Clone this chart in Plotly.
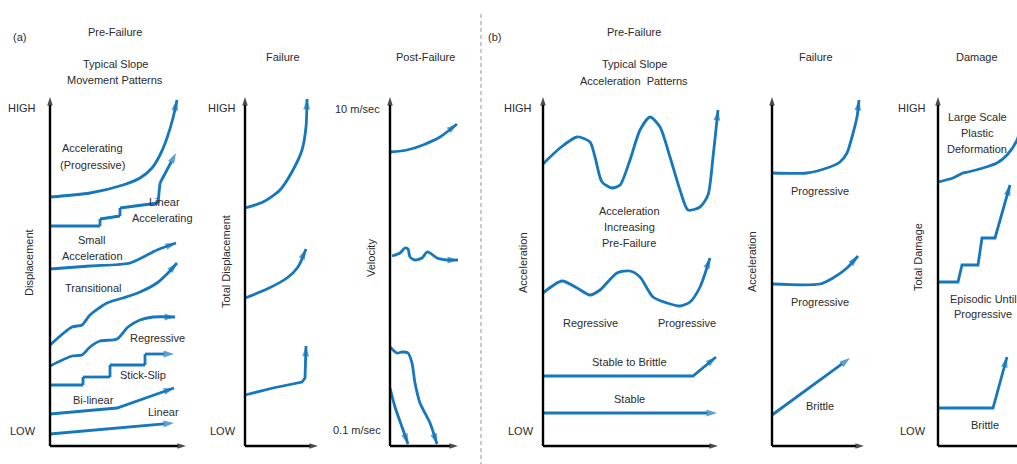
import plotly.graph_objects as go

W, H = 1017, 464
BLUE = "#1677bd"
TXT = "#2b2b2b"
FONT = "Liberation Sans, Arial, sans-serif"

# ---------------- Panel (a) Pre-Failure: displacement patterns ----------------
accel_prog_x = [50, 90, 123, 140, 152, 160, 167, 173, 177]
accel_prog_y = [197, 193, 185, 178, 168, 155, 138, 118, 100]
lin_accel_x = [50, 100, 100, 120, 120, 158, 160, 176]
lin_accel_y = [226, 226, 219, 216, 208, 203, 183, 153]
small_acc_x = [50, 90, 130, 157, 176]
small_acc_y = [269, 266, 263, 250, 243]
transit_x = [50, 72, 82, 90, 107, 123, 140, 157, 168, 177]
transit_y = [345, 327, 325, 315, 303, 298, 292, 283, 273, 263]
regress_x = [50, 72, 82, 90, 100, 117, 128, 140, 153, 175]
regress_y = [366, 356, 355, 347, 341, 339, 327, 320, 317, 317]
stick_x = [50, 83, 83, 110, 110, 145, 145, 174]
stick_y = [385, 385, 377, 377, 365, 365, 354, 354]
bilin_x = [50, 117, 174]
bilin_y = [414, 408, 388]
linear_x = [50, 174]
linear_y = [434, 423]

# ---------------- Panel (a) Failure: total displacement ----------------
fail_top_x = [245, 263, 280, 293, 302, 306, 307]
fail_top_y = [208, 202, 190, 170, 150, 127, 99]
fail_mid_x = [245, 267, 287, 298, 306]
fail_mid_y = [298, 289, 278, 267, 249]
fail_bot_x = [245, 273, 302, 305, 306]
fail_bot_y = [395, 388, 382, 378, 346]

# ---------------- Panel (a) Post-Failure: velocity ----------------
post_top_x = [390, 407, 423, 440, 457]
post_top_y = [152, 150, 145, 137, 124]
post_mid_x = [392, 400, 405, 408, 410, 415, 422, 427, 430, 437, 447, 458]
post_mid_y = [256, 253, 248, 249, 257, 260, 258, 252, 253, 258, 260, 260]
post_low1_x = [390, 397, 402, 408, 412, 415, 420, 430, 437]
post_low1_y = [347, 353, 352, 353, 363, 383, 403, 423, 444]
post_low2_x = [390, 395, 402, 408]
post_low2_y = [388, 407, 427, 444]

# ---------------- Panel (b) Pre-Failure: acceleration patterns ----------------
wave_big_x = [543, 560, 577, 590, 595, 602, 612, 620, 630, 640, 650, 660, 670, 680, 688, 700, 708, 713, 718]
wave_big_y = [164, 148, 137, 142, 157, 182, 188, 185, 160, 130, 117, 127, 157, 190, 210, 207, 195, 157, 110]
wave_small_x = [543, 562, 577, 590, 600, 617, 630, 640, 653, 667, 680, 690, 700, 710]
wave_small_y = [293, 281, 288, 295, 290, 273, 271, 277, 297, 303, 306, 302, 287, 258]
stab_brit_x = [543, 693, 716]
stab_brit_y = [376, 376, 357]
stable_x = [543, 717]
stable_y = [413, 413]

# ---------------- Panel (b) Failure: acceleration ----------------
bf_top_x = [772, 807, 827, 840, 847, 852, 857, 859]
bf_top_y = [173, 173, 168, 162, 153, 137, 117, 100]
bf_mid_x = [772, 820, 833, 847, 858]
bf_mid_y = [284, 284, 278, 268, 256]
bf_brit_x = [772, 850]
bf_brit_y = [415, 358]

# ---------------- Panel (b) Damage ----------------
dmg_top_x = [938, 953, 963, 968, 983, 997, 1007, 1017, 1024]
dmg_top_y = [182, 178, 173, 172, 168, 163, 155, 140, 115]
dmg_epi_x = [938, 958, 962, 978, 982, 995, 1010]
dmg_epi_y = [282, 282, 265, 265, 238, 238, 185]
dmg_brit_x = [938, 993, 1007]
dmg_brit_y = [408, 408, 357]

# axes: (x of vertical axis, top, bottom, right end of horizontal axis)
axis_x = [50, 245, 390, 543, 772, 938]
axis_top = [97, 97, 97, 97, 97, 97]
axis_bottom = [446, 446, 446, 446, 446, 446]
axis_right = [186, 318, 458, 718, 864, 1032]

# text labels
label_text = ["(a)", "Pre-Failure", "Typical Slope", "Movement Patterns", "Failure", "Post-Failure",
              "(b)", "Pre-Failure", "Typical Slope", "Acceleration  Patterns", "Failure", "Damage",
              "HIGH", "LOW", "HIGH", "LOW", "10 m/sec", "0.1 m/sec", "HIGH", "LOW", "HIGH", "LOW",
              "Accelerating", "(Progressive)", "Linear", "Accelerating", "Small", "Acceleration",
              "Transitional", "Regressive", "Stick-Slip", "Bi-linear", "Linear",
              "Acceleration", "Increasing", "Pre-Failure", "Regressive", "Progressive",
              "Stable to Brittle", "Stable",
              "Progressive", "Progressive", "Brittle",
              "Large Scale", "Plastic", "Deformation", "Episodic Until", "Progressive", "Brittle"]
label_x = [19, 115, 115, 115, 283, 425,
           494, 634, 634, 634, 816, 977,
           22, 23, 222, 223, 357, 357, 518, 521, 912, 913,
           92, 92, 164, 162, 92, 92,
           93, 157, 143, 93, 163,
           629, 629, 629, 590, 687,
           629, 629,
           820, 820, 820,
           977, 977, 977, 983, 983, 985]
label_y = [37, 32, 64, 80, 57, 57,
           37, 32, 64, 81, 57, 57,
           108, 431, 108, 431, 109, 430, 108, 431, 108, 431,
           148, 165, 202, 218, 240, 256,
           288, 338, 375, 400, 412,
           211, 227, 243, 323, 323,
           362, 399,
           191, 302, 406,
           117, 133, 149, 299, 314, 425]

rot_text = ["Displacement", "Total Displacement", "Velocity", "Acceleration", "Acceleration", "Total Damage"]
rot_x = [29, 226, 371, 523, 752, 918]
rot_y = [263, 262, 258, 263, 262, 257]

fig = go.Figure()


def add_line(xs, ys, color=BLUE, width=2.8, shape="linear", arrow=True, asize=11):
    n = len(xs)
    sizes = [0] * (n - 1) + [asize if arrow else 0]
    symbols = ["circle"] * (n - 1) + ["arrow"]
    fig.add_trace(go.Scatter(
        x=xs, y=ys, mode="lines+markers",
        line=dict(color=color, width=width, shape=shape, smoothing=0.7),
        marker=dict(size=sizes, symbol=symbols, color=color, angleref="previous",
                    line=dict(width=0)),
        hoverinfo="skip", showlegend=False))


smooth = [
    (accel_prog_x, accel_prog_y), (small_acc_x, small_acc_y),
    (fail_top_x, fail_top_y), (fail_mid_x, fail_mid_y),
    (post_top_x, post_top_y), (post_mid_x, post_mid_y), (post_low1_x, post_low1_y), (post_low2_x, post_low2_y),
    (wave_big_x, wave_big_y), (wave_small_x, wave_small_y),
    (bf_top_x, bf_top_y), (bf_mid_x, bf_mid_y), (dmg_top_x, dmg_top_y),
    (transit_x, transit_y), (regress_x, regress_y),
]
straight = [
    (lin_accel_x, lin_accel_y), (stick_x, stick_y), (bilin_x, bilin_y), (linear_x, linear_y),
    (fail_bot_x, fail_bot_y), (stab_brit_x, stab_brit_y), (stable_x, stable_y),
    (bf_brit_x, bf_brit_y), (dmg_epi_x, dmg_epi_y), (dmg_brit_x, dmg_brit_y),
]
for xs, ys in smooth:
    add_line(xs, ys, shape="spline")
for xs, ys in straight:
    add_line(xs, ys, shape="linear")

# black axes with arrowheads
for ax, at, ab, ar in zip(axis_x, axis_top, axis_bottom, axis_right):
    add_line([ax, ax], [ab, at], color="black", width=2.4, asize=9)
    add_line([ax, ar], [ab, ab], color="black", width=2.4, asize=9)

# dashed separator
fig.add_trace(go.Scatter(x=[481, 481], y=[14, 464], mode="lines",
                         line=dict(color="#a8a8a8", width=1.2, dash="4px,3px"),
                         hoverinfo="skip", showlegend=False))

for t, x, y in zip(label_text, label_x, label_y):
    fig.add_annotation(x=x, y=y, text=t, showarrow=False, xref="x", yref="y",
                       font=dict(family=FONT, size=11, color=TXT))
for t, x, y in zip(rot_text, rot_x, rot_y):
    fig.add_annotation(x=x, y=y, text=t, showarrow=False, xref="x", yref="y", textangle=-90,
                       font=dict(family=FONT, size=11, color=TXT))

fig.update_layout(
    width=W, height=H, margin=dict(l=0, r=0, t=0, b=0),
    paper_bgcolor="white", plot_bgcolor="white",
    xaxis=dict(range=[0, W], visible=False, fixedrange=True),
    yaxis=dict(range=[H, 0], visible=False, fixedrange=True),
)
fig.write_html("out.html", config={"displayModeBar": False},
               post_script="document.body.style.margin='0';document.body.style.overflow='hidden';")
